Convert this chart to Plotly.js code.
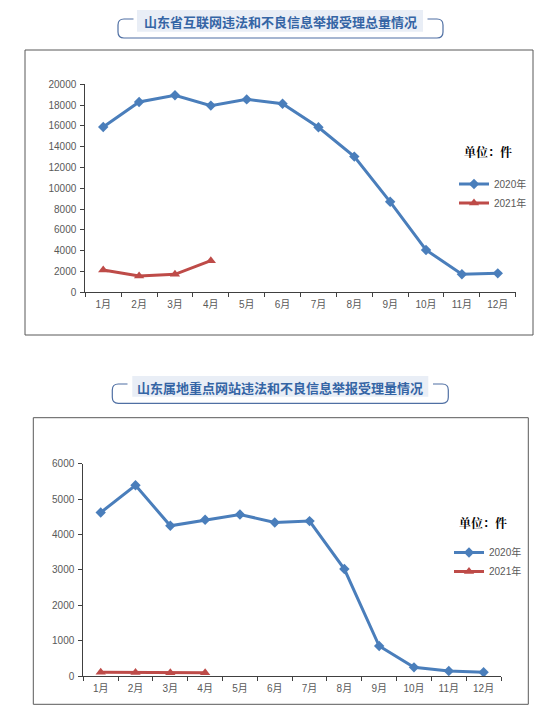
<!DOCTYPE html>
<html>
<head>
<meta charset="utf-8">
<script src="https://cdn.plot.ly/plotly-3.0.1.min.js"></script>
<style>
html,body{margin:0;padding:0;background:#fff;}
#chart{width:548px;height:710px;}
</style>
</head>
<body>
<div id="chart"></div>
<script>
// ---- data ----
const months = ["1月","2月","3月","4月","5月","6月","7月","8月","9月","10月","11月","12月"];
const months2021 = ["1月","2月","3月","4月"];
const total2020 = [15900, 18300, 18950, 17950, 18550, 18130, 15870, 13050, 8700, 4070, 1730, 1820];
const total2021 = [2140, 1570, 1730, 3040];
const site2020 = [4620, 5390, 4245, 4415, 4565, 4340, 4378, 3022, 847, 245, 141, 104];
const site2021 = [105, 100, 95, 90];
const seriesNames = ["2020年", "2021年"];
const title1 = "山东省互联网违法和不良信息举报受理总量情况";
const title2 = "山东属地重点网站违法和不良信息举报受理量情况";
const unitText = "单位：件";

// ---- layout helpers ----
const W = 548, H = 710;
const px = x => x / W;
const py = y => 1 - y / H;

const blue = "#4a7ebb", red = "#be4b48";
const tickFont = {family: "Liberation Sans, Noto Sans CJK SC, sans-serif", size: 10, color: "#595959"};
const cjk = "Noto Sans CJK SC, sans-serif";

function lineTrace(x, y, name, color, symbol, size, xa, ya, legend, show) {
  return {
    x: x, y: y, name: name, type: "scatter", mode: "lines+markers",
    xaxis: xa, yaxis: ya, legend: legend, showlegend: show,
    line: {color: color, width: 3},
    marker: {color: color, symbol: symbol, size: size}
  };
}

const traces = [
  lineTrace(months, total2020, seriesNames[0], blue, "diamond", 8, "x", "y", "legend", true),
  lineTrace(months2021, total2021, seriesNames[1], red, "triangle-up", 9, "x", "y", "legend", true),
  lineTrace(months, site2020, seriesNames[0], blue, "diamond", 8, "x2", "y2", "legend2", true),
  lineTrace(months2021, site2021, seriesNames[1], red, "triangle-up", 9, "x2", "y2", "legend2", true)
];

function xAxis(d0, d1, anchor) {
  return {
    domain: [px(d0), px(d1)], anchor: anchor, type: "category",
    categoryorder: "array", categoryarray: months,
    range: [-0.5, 11.5], showgrid: false, zeroline: false,
    showline: true, linecolor: "#404040", linewidth: 1,
    ticks: "outside", ticklen: 4, tickcolor: "#404040", tickson: "boundaries",
    ticklabelstandoff: 3,
    tickfont: tickFont, fixedrange: true
  };
}
function yAxis(d0, d1, anchor, max, dtick) {
  return {
    domain: [py(d1), py(d0)], anchor: anchor, range: [0, max], dtick: dtick, tick0: 0,
    tickformat: "d", ticklabelstandoff: 2,
    showgrid: false, zeroline: false, showline: true, linecolor: "#404040", linewidth: 1,
    ticks: "outside", ticklen: 4, tickcolor: "#404040",
    tickfont: tickFont, fixedrange: true
  };
}

function titleBox(l, t, r, b, rl, rt, rr, rb, segL, segR) {
  const rad = 6;
  const X = v => px(v), Y = v => py(v);
  const path =
    "M " + X(segL) + " " + Y(t) +
    " L " + X(l + rad) + " " + Y(t) +
    " Q " + X(l) + " " + Y(t) + " " + X(l) + " " + Y(t + rad) +
    " L " + X(l) + " " + Y(b - rad) +
    " Q " + X(l) + " " + Y(b) + " " + X(l + rad) + " " + Y(b) +
    " L " + X(r - rad) + " " + Y(b) +
    " Q " + X(r) + " " + Y(b) + " " + X(r) + " " + Y(b - rad) +
    " L " + X(r) + " " + Y(t + rad) +
    " Q " + X(r) + " " + Y(t) + " " + X(r - rad) + " " + Y(t) +
    " L " + X(segR) + " " + Y(t);
  return [
    {type: "path", xref: "paper", yref: "paper", path: path,
     line: {color: "#4f6fa3", width: 1.2}},
    {type: "rect", xref: "paper", yref: "paper", x0: X(rl), x1: X(rr), y0: Y(rb), y1: Y(rt),
     fillcolor: "#e9eef6", line: {width: 0}}
  ];
}

const shapes = [
  {type: "rect", xref: "paper", yref: "paper", x0: px(25), x1: px(533), y0: py(335), y1: py(50),
   line: {color: "#595959", width: 1}, layer: "below"},
  {type: "rect", xref: "paper", yref: "paper", x0: px(33.3), x1: px(528.3), y0: py(704.3), y1: py(417.7),
   line: {color: "#595959", width: 1}, layer: "below"}
].concat(
  titleBox(118, 19, 443, 38, 137, 10, 423, 31.7, 133.5, 427.5),
  titleBox(112.3, 384, 448.3, 403.3, 132.3, 376, 428.3, 396.7, 127.5, 433)
);

const unitFont = {family: "Noto Serif CJK SC, Noto Sans CJK SC, serif", size: 12, color: "#000"};
const annotations = [
  {text: "<b>" + title1 + "</b>", xref: "paper", yref: "paper", x: px(280), y: py(21.5),
   xanchor: "center", yanchor: "middle", showarrow: false,
   font: {family: cjk, size: 13, color: "#3565a5"}},
  {text: "<b>" + title2 + "</b>", xref: "paper", yref: "paper", x: px(280.3), y: py(387),
   xanchor: "center", yanchor: "middle", showarrow: false,
   font: {family: cjk, size: 13, color: "#3565a5"}},
  {text: "<b>" + unitText + "</b>", xref: "paper", yref: "paper", x: px(488), y: py(152),
   xanchor: "center", yanchor: "middle", showarrow: false, font: unitFont},
  {text: "<b>" + unitText + "</b>", xref: "paper", yref: "paper", x: px(483.3), y: py(522.3),
   xanchor: "center", yanchor: "middle", showarrow: false, font: unitFont}
];

const legendStyle = {
  xanchor: "left", yanchor: "top", bgcolor: "rgba(0,0,0,0)", borderwidth: 0,
  font: {family: "Liberation Sans, Noto Sans CJK SC, sans-serif", size: 10, color: "#595959"},
  itemwidth: 30, tracegroupgap: 0, orientation: "v"
};

const layout = {
  width: W, height: H,
  margin: {l: 0, r: 0, t: 0, b: 0},
  paper_bgcolor: "#fff", plot_bgcolor: "rgba(0,0,0,0)",
  showlegend: true,
  xaxis: xAxis(85.3, 515.7, "y"),
  yaxis: yAxis(84.3, 292.3, "x", 20000, 2000),
  xaxis2: xAxis(83.3, 501, "y2"),
  yaxis2: yAxis(463.7, 676, "x2", 6000, 1000),
  legend: Object.assign({x: px(454), y: py(169.5)}, legendStyle),
  legend2: Object.assign({x: px(449), y: py(538)}, legendStyle),
  shapes: shapes,
  annotations: annotations
};

Plotly.newPlot("chart", traces, layout, {displayModeBar: false, staticPlot: true});
</script>
</body>
</html>
